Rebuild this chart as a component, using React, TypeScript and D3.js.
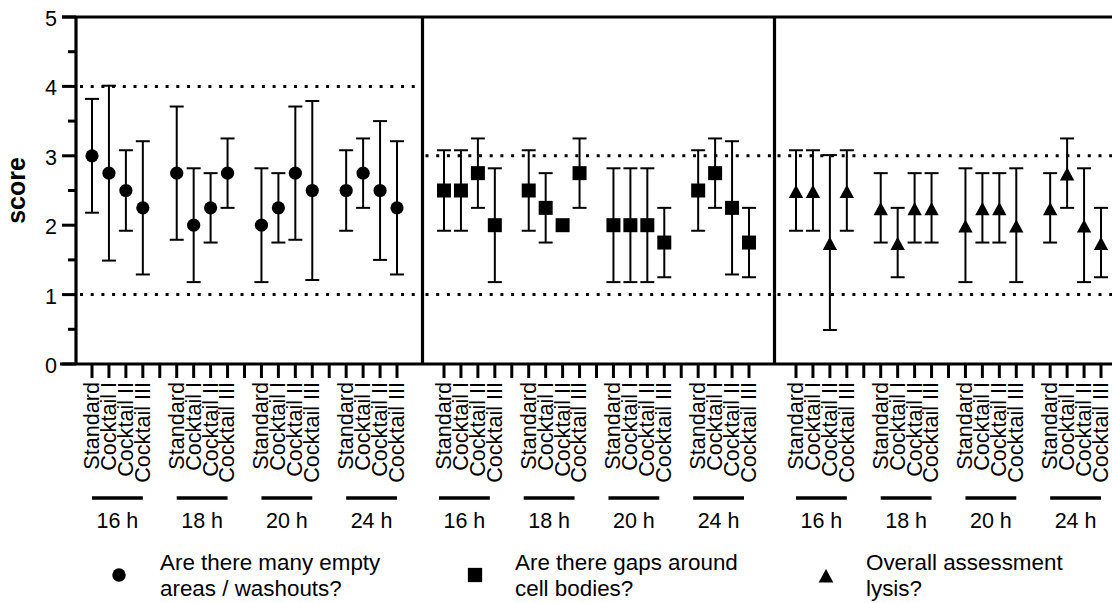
import React from "react";
import * as d3 from "d3";

// Categories along the x axis
const treatments = ["Standard", "Cocktail I", "Cocktail II", "Cocktail III"];
const timepoints = ["16 h", "18 h", "20 h", "24 h"];

// Questions, one per panel
const questions = [
  ["Are there many empty", "areas / washouts?"],
  ["Are there gaps around", "cell bodies?"],
  ["Overall assessment", "lysis?"],
];

// Mean score and SD, ordered by timepoint then treatment
const washoutMean = [3, 2.75, 2.5, 2.25, 2.75, 2, 2.25, 2.75, 2, 2.25, 2.75, 2.5, 2.5, 2.75, 2.5, 2.25];
const washoutSd = [0.82, 1.26, 0.58, 0.96, 0.96, 0.82, 0.5, 0.5, 0.82, 0.5, 0.96, 1.29, 0.58, 0.5, 1.0, 0.96];

const gapsMean = [2.5, 2.5, 2.75, 2, 2.5, 2.25, 2, 2.75, 2, 2, 2, 1.75, 2.5, 2.75, 2.25, 1.75];
const gapsSd = [0.58, 0.58, 0.5, 0.82, 0.58, 0.5, 0, 0.5, 0.82, 0.82, 0.82, 0.5, 0.58, 0.5, 0.96, 0.5];

const lysisMean = [2.5, 2.5, 1.75, 2.5, 2.25, 1.75, 2.25, 2.25, 2, 2.25, 2.25, 2, 2.25, 2.75, 2, 1.75];
const lysisSd = [0.58, 0.58, 1.26, 0.58, 0.5, 0.5, 0.5, 0.5, 0.82, 0.5, 0.5, 0.82, 0.5, 0.5, 0.82, 0.5];

// Reference lines per panel (upper dotted line; lower one is at 1)
const upperRef = [4, 3, 3];
const lowerRef = 1;

const yTicks = [0, 1, 2, 3, 4, 5];
const yMinorTicks = [0.5, 1.5, 2.5, 3.5, 4.5];

const panels = [
  { mean: washoutMean, sd: washoutSd, shape: "circle", groupShift: 0 },
  { mean: gapsMean, sd: gapsSd, shape: "square", groupShift: -5 },
  { mean: lysisMean, sd: lysisSd, shape: "triangle", groupShift: 0 },
];

const W = 1112;
const H = 603;
const FONT = "'Liberation Sans', Arial, Helvetica, sans-serif";

const axisX = 76;
const rightEdge = W;
const y = d3.scaleLinear().domain([0, 5]).range([364, 17]);
// panel origin (first slot) and slot position inside a panel
const panelX = d3.scaleLinear().domain([0, 2]).range([92, 796]);
const slotX = d3.scaleLinear().domain([0, 18]).range([0, 305]);

const slotOf = (i: number) => Math.floor(i / 4) * 5 + (i % 4);
const xOf = (p: number, i: number) => panelX(p) + slotX(slotOf(i));

function Marker({ shape, x, cy, s = 1 }: { shape: string; x: number; cy: number; s?: number }) {
  if (shape === "circle") return <circle cx={x} cy={cy} r={6.6 * s} fill="#000" />;
  if (shape === "square")
    return <rect x={x - 7 * s} y={cy - 7 * s} width={14 * s} height={14 * s} fill="#000" />;
  const p = d3.path();
  p.moveTo(x, cy - 5.8 * s);
  p.lineTo(x + 7.2 * s, cy + 7.4 * s);
  p.lineTo(x - 7.2 * s, cy + 7.4 * s);
  p.closePath();
  return <path d={p.toString()} fill="#000" />;
}

export default function App() {
  const separators = [1, 2].map((p) => panelX(p) - 21.5);
  const allSlots: number[] = [];
  panels.forEach((_, p) => {
    for (let s = 0; s <= 18; s++) allSlots.push(panelX(p) + slotX(s));
  });

  return (
    <svg
      width={W}
      height={H}
      style={{ position: "absolute", left: 0, top: 0, display: "block", background: "#fff" }}
      fontFamily={FONT}
    >
      {/* dotted reference lines */}
      {panels.map((_, p) => {
        const x0 = p === 0 ? axisX + 4 : separators[p - 1] + 3;
        const x1 = p === 2 ? rightEdge : separators[p] - 2;
        return (
          <g key={"ref" + p} stroke="#000" strokeWidth={3} strokeDasharray="3 7.7">
            <line x1={x0} x2={x1} y1={y(upperRef[p])} y2={y(upperRef[p])} />
            <line x1={x0} x2={x1} y1={y(lowerRef)} y2={y(lowerRef)} />
          </g>
        );
      })}

      {/* error bars */}
      {panels.map((pan, p) => (
        <g key={"eb" + p} stroke="#000" strokeWidth={2}>
          {pan.mean.map((m, i) => {
            const sd = pan.sd[i];
            if (!sd) return null;
            const x = xOf(p, i);
            const hi = y(m + sd);
            const lo = y(m - sd);
            return (
              <g key={i}>
                <line x1={x} x2={x} y1={hi} y2={lo} />
                <line x1={x - 7} x2={x + 7} y1={hi} y2={hi} />
                <line x1={x - 7} x2={x + 7} y1={lo} y2={lo} />
              </g>
            );
          })}
        </g>
      ))}

      {/* markers */}
      {panels.map((pan, p) => (
        <g key={"mk" + p}>
          {pan.mean.map((m, i) => (
            <Marker key={i} shape={pan.shape} x={xOf(p, i)} cy={y(m)} />
          ))}
        </g>
      ))}

      {/* frame: top line, y axis, x axis, panel separators */}
      <g stroke="#000" strokeWidth={3.2} fill="none">
        <line x1={62} x2={rightEdge} y1={y(5)} y2={y(5)} />
        <line x1={axisX} x2={axisX} y1={y(5)} y2={y(0)} />
        <line x1={60} x2={rightEdge} y1={y(0)} y2={y(0)} />
        {separators.map((sx, k) => (
          <line key={k} x1={sx} x2={sx} y1={y(5)} y2={y(0)} />
        ))}
      </g>

      {/* y ticks */}
      <g stroke="#000" strokeWidth={3}>
        {yTicks.map((t) => (
          <line key={t} x1={62} x2={axisX} y1={y(t)} y2={y(t)} />
        ))}
        {yMinorTicks.map((t) => (
          <line key={t} x1={68} x2={axisX} y1={y(t)} y2={y(t)} />
        ))}
      </g>
      <g fontSize={21.5} textAnchor="end" fill="#000">
        {yTicks.map((t) => (
          <text key={t} x={57} y={y(t)} dy="0.42em">
            {t}
          </text>
        ))}
      </g>
      <text
        transform={`translate(25,${y(2.5)}) rotate(-90)`}
        textAnchor="middle"
        fontWeight="bold"
        fontSize={25}
      >
        score
      </text>

      {/* x ticks */}
      <g stroke="#000" strokeWidth={3}>
        {allSlots.map((sx, k) => (
          <line key={k} x1={sx} x2={sx} y1={y(0)} y2={y(0) + 14} />
        ))}
      </g>

      {/* treatment labels, group bars and time labels */}
      {panels.map((pan, p) => (
        <g key={"xl" + p}>
          {pan.mean.map((_, i) => (
            <text
              key={i}
              transform={`translate(${xOf(p, i)},382) rotate(-90)`}
              textAnchor="end"
              dy="0.32em"
              fontSize={21.6}
            >
              {treatments[i % 4]}
            </text>
          ))}
          {timepoints.map((tp, g) => {
            const a = xOf(p, g * 4) + pan.groupShift;
            const b = xOf(p, g * 4 + 3) + pan.groupShift;
            return (
              <g key={tp}>
                <line x1={a} x2={b} y1={498} y2={498} stroke="#000" strokeWidth={3.5} />
                <text x={(a + b) / 2} y={528} textAnchor="middle" fontSize={21.5}>
                  {tp}
                </text>
              </g>
            );
          })}
        </g>
      ))}

      {/* legend */}
      {panels.map((pan, p) => {
        const mx = [119, 475, 826][p];
        const tx = [160, 515, 866][p];
        return (
          <g key={"lg" + p}>
            <Marker shape={pan.shape} x={mx} cy={575} s={1.02} />
            <text x={tx} y={570} fontSize={22.4}>
              {questions[p][0]}
            </text>
            <text x={tx} y={596} fontSize={22.4}>
              {questions[p][1]}
            </text>
          </g>
        );
      })}
    </svg>
  );
}
